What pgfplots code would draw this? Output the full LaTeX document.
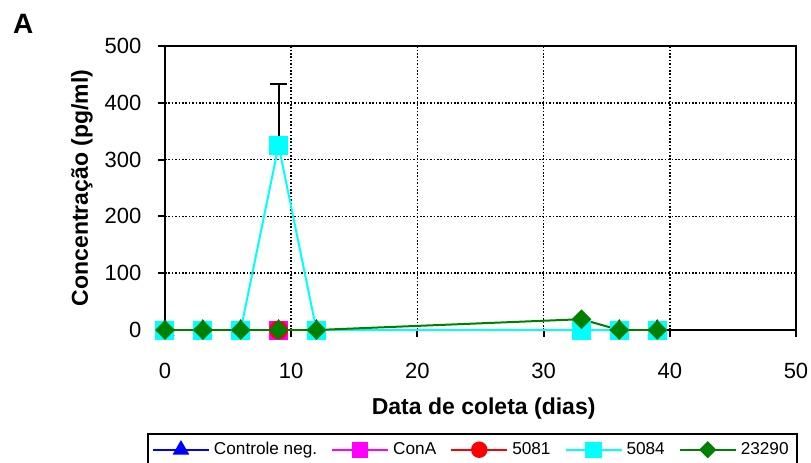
\documentclass[border=0pt]{standalone}
\usepackage{pgfplots}
\pgfplotsset{compat=1.18}
\usepackage{fontspec}
\setmainfont{Liberation Sans}

\definecolor{cneg}{RGB}{0,0,255}
\definecolor{cona}{RGB}{255,0,255}
\definecolor{c5081}{RGB}{255,0,0}
\definecolor{c5084}{RGB}{0,255,255}
\definecolor{c23290}{RGB}{0,128,0}

\begin{document}
\begin{tikzpicture}
\begin{axis}[
  at={(0,0)}, anchor=south west,
  scale only axis,
  width=315.5pt, height=142pt,
  xmin=0, xmax=50, ymin=0, ymax=500,
  xtick={0,10,20,30,40,50},
  ytick={0,100,200,300,400,500},
  xtick pos=bottom, ytick pos=left,
  tick align=outside,
  major tick length=3.5pt,
  every tick/.style={black, line width=1pt},
  axis line style={line width=1pt},
  grid=major,
  major grid style={black, line width=0.8pt, dash pattern=on 0.8pt off 0.9pt},
  /pgf/number format/assume math mode=true,
  tick label style={font=\fontsize{11}{13}\selectfont},
  xticklabel style={yshift=-9.5pt},
  yticklabel style={xshift=-4.8pt},
  xlabel={\textbf{Data de coleta (dias)}},
  ylabel={\textbf{Concentração (pg/ml)}},
  label style={font=\fontsize{11.5}{13}\selectfont},
  xlabel style={at={(axis description cs:0.505,-0.278)}, anchor=center},
  ylabel style={at={(axis description cs:-0.1315,0.5)}, anchor=center},
  legend columns=5,
  legend style={
    at={(axis description cs:0.487,-0.3627)}, anchor=north,
    draw=black, line width=1pt,
    font=\fontsize{8.6}{10}\selectfont,
    inner xsep=2pt, inner ysep=2pt,
    /tikz/every even column/.append style={column sep=5pt},
  },
  legend cell align=left,
  legend image code/.code={
    \draw[mark repeat=2, mark phase=2, every mark/.append style={scale=0.85}]
      plot coordinates {(0pt,0pt) (14pt,0pt) (28pt,0pt)};
  },
]
% negative control
\addplot[cneg, line width=1pt, mark=triangle*, mark size=4.5pt]
  coordinates {(0,0) (3,0) (6,0) (9,0) (12,0) (33,0) (36,0) (39,0)};
\addlegendentry{Controle neg.}
% ConA
\addplot[cona, line width=1pt, mark=square*, mark size=4.25pt]
  coordinates {(0,0) (3,0) (6,0) (9,0) (12,0) (33,0) (36,0) (39,0)};
\addlegendentry{ConA}
% strain 5081
\addplot[c5081, line width=1pt, mark=*, mark size=4.25pt]
  coordinates {(0,0) (3,0) (6,0) (9,0) (12,0) (33,0) (36,0) (39,0)};
\addlegendentry{5081}
% strain 5084, with standard deviation at day 9
\addplot[c5084, line width=1pt, mark=square*, mark size=4.25pt,
  error bars/.cd, y dir=plus, y explicit,
  error bar style={black, line width=1pt},
  error mark options={black, line width=1pt, rotate=90, mark size=4.25pt}]
  coordinates {(0,0) (3,0) (6,0) (9,325) +- (0,108) (12,0) (33,0) (36,0) (39,0)};
\addlegendentry{5084}
% strain 23290
\addplot[c23290, line width=1pt, mark=square*, mark size=3pt, mark options={rotate=45}]
  coordinates {(0,0) (3,0) (6,0) (9,0) (12,0) (33,19) (36,0) (39,0)};
\addlegendentry{23290}
\end{axis}
\node[font=\fontsize{14}{16}\selectfont\bfseries, anchor=north west] at (-79.5pt,161.5pt) {A};
\pgfresetboundingbox
\useasboundingbox (-82.5pt,-66pt) rectangle (323pt,165pt);
\end{tikzpicture}
\end{document}
